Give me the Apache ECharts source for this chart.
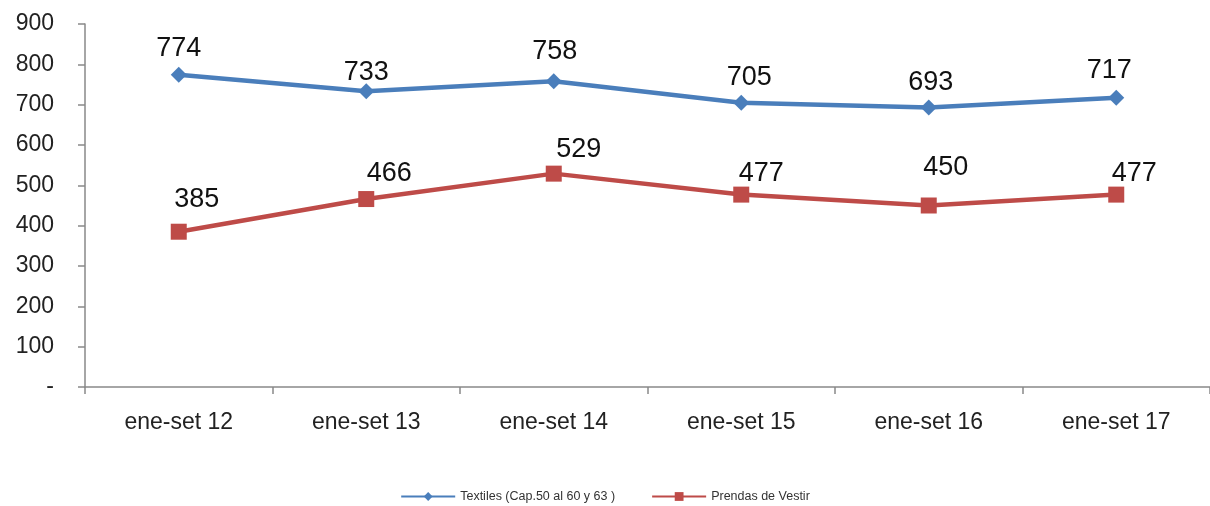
<!DOCTYPE html>
<html><head><meta charset="utf-8">
<script src="https://cdn.jsdelivr.net/npm/echarts@6/dist/echarts.min.js"></script>
<style>html,body{margin:0;padding:0;background:#fff}#c{width:1210px;height:506px}</style>
</head><body><div id="c"></div>
<script>
const categories = ['ene-set 12','ene-set 13','ene-set 14','ene-set 15','ene-set 16','ene-set 17'];
const textiles = [774, 733, 758, 705, 693, 717];
const prendas = [385, 466, 529, 477, 450, 477];
const yTicks = {min: 0, max: 900, interval: 100};

// label placement (style only): offset of label centre from its point
const textilesLabelOffsets = [[0,-26],[0,-19],[1,-30],[8,-25],[2,-25],[-7,-27]];
const prendasLabelOffsets = [[18,-32],[23,-25],[25,-24],[20,-21],[17,-38],[18,-21]];

const font = '"Liberation Sans", Arial, sans-serif';
function withOffsets(vals, offs){
  return vals.map((v,i)=>({value:v, label:{offset:offs[i]}}));
}
const chart = echarts.init(document.getElementById('c'));
chart.setOption({
  animation:false,
  grid:{left:85, right:0, top:24, bottom:119, containLabel:false},
  legend:{
    bottom:-2, left:'center', itemWidth:54, itemHeight:11, itemGap:36,
    textStyle:{fontFamily:font, fontSize:12.5, color:'#333'},
    data:['Textiles (Cap.50 al 60 y 63 )','Prendas de Vestir']
  },
  xAxis:{
    type:'category', data:categories, boundaryGap:true,
    axisLine:{lineStyle:{color:'#898989', width:1.5}},
    axisTick:{show:true, length:7, lineStyle:{color:'#898989', width:1.5}},
    axisLabel:{fontFamily:font, fontSize:23, color:'#222', margin:24}
  },
  yAxis:{
    type:'value', min:yTicks.min, max:yTicks.max, interval:yTicks.interval,
    splitLine:{show:false},
    axisLine:{show:true, lineStyle:{color:'#898989', width:1.5}},
    axisTick:{show:true, length:7, lineStyle:{color:'#898989', width:1.5}},
    axisLabel:{fontFamily:font, fontSize:23, color:'#222', margin:31,
      formatter:v=> v===0 ? '-' : String(v)}
  },
  series:[
    {name:'Textiles (Cap.50 al 60 y 63 )', type:'line', data:withOffsets(textiles,textilesLabelOffsets),
     symbol:'diamond', symbolSize:16,
     lineStyle:{color:'#4A7EBB', width:4.5}, itemStyle:{color:'#4A7EBB'},
     label:{show:true, position:'inside', fontFamily:font, fontSize:27, color:'#111'}},
    {name:'Prendas de Vestir', type:'line', data:withOffsets(prendas,prendasLabelOffsets),
     symbol:'rect', symbolSize:16,
     lineStyle:{color:'#BE4B48', width:4.5}, itemStyle:{color:'#BE4B48'},
     label:{show:true, position:'inside', fontFamily:font, fontSize:27, color:'#111'}}
  ]
});
</script></body></html>
